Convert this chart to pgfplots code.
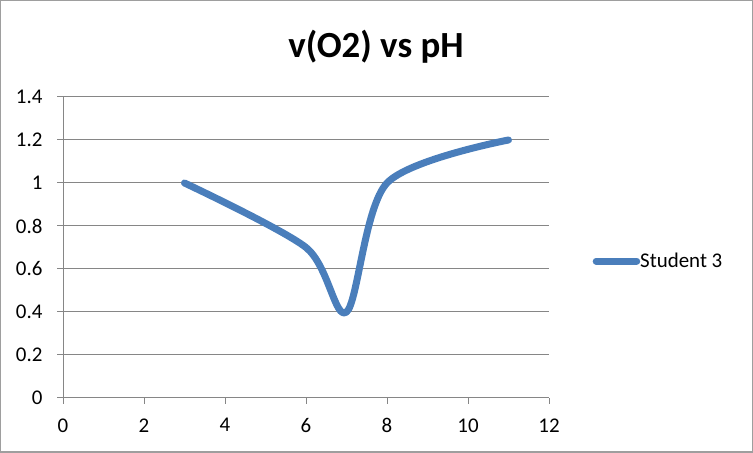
\documentclass[border=0pt]{standalone}
\usepackage{pgfplots}
\pgfplotsset{compat=1.18}
\usepackage{fontspec}
\setmainfont{Carlito}
\definecolor{lineblue}{RGB}{74,126,187}
\definecolor{gridgray}{RGB}{134,134,134}
\newcommand{\lblfont}{\fontsize{21}{24}\selectfont}
\begin{document}
\begin{tikzpicture}[x=1bp,y=1bp]
\path[use as bounding box] (0,0) rectangle (753,453);
\draw[gridgray!80, line width=1.5bp] (0.75,0.75) rectangle (752.25,452.25);
\node[anchor=base, font=\fontsize{37}{40}\selectfont\bfseries] at (376,395) {v(O2) vs pH};
\begin{axis}[
  at={(63bp,55bp)}, anchor=south west,
  scale only axis, width=486bp, height=301bp,
  xmin=0, xmax=12, ymin=0, ymax=1.4,
  xtick={0,2,4,6,8,10,12},
  ytick={0,0.2,0.4,0.6,0.8,1,1.2,1.4},
  axis x line=bottom, axis y line=left,
  axis line style={-, gridgray, line width=1bp},
  tick align=outside, major tick length=6bp,
  tick style={gridgray, line width=1bp},
  ymajorgrids, grid style={gridgray, line width=1bp},
  /pgf/number format/assume math mode=true,
  xticklabel={\lblfont\pgfmathprintnumber{\tick}},
  yticklabel={\lblfont\pgfmathprintnumber{\tick}},
  tick label style={text=black},
  xticklabel style={yshift=-11bp},
  yticklabel style={xshift=-11bp},
  clip=false,
  legend style={at={(1.0895,0.455)}, anchor=west, draw=none, fill=none,
    inner sep=0pt, font=\lblfont,
    nodes={inner sep=0pt},
    /tikz/every odd column/.append style={column sep=0bp}},
  legend image code/.code={\draw[#1, line cap=round] (0bp,0bp) -- (40.5bp,0bp);},
]
\addplot[lineblue, line width=7bp, smooth, tension=0.5, line cap=round, line join=round]
  coordinates {(3,1) (6,0.7) (7,0.4) (8,1) (11,1.2)};
\addlegendentry{\lblfont Student 3}
\end{axis}
\end{tikzpicture}
\end{document}
